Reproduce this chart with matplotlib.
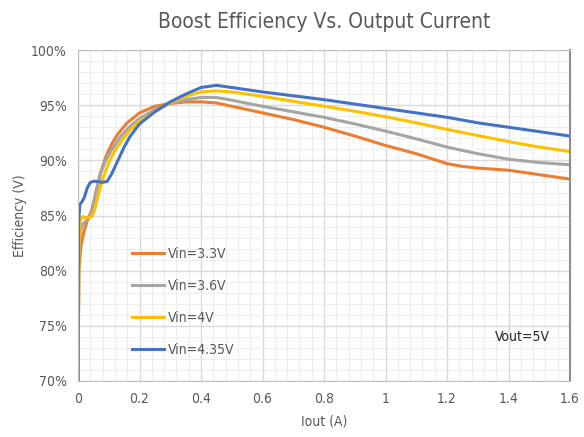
import matplotlib
matplotlib.use("Agg")
import matplotlib.pyplot as plt
from matplotlib.ticker import MultipleLocator, FuncFormatter

# Efficiency (%) vs output current (A)
x_33 = [0, 0.003, 0.01, 0.02, 0.03, 0.045, 0.06, 0.075, 0.09, 0.11, 0.13, 0.16, 0.2, 0.25, 0.3,
        0.35, 0.4, 0.45, 0.5, 0.6, 0.7, 0.8, 0.9, 1.0, 1.1, 1.2, 1.25, 1.3, 1.4, 1.5, 1.6]
y_33 = [70, 80.0, 82.3, 83.6, 84.5, 85.5, 87.3, 89.0, 90.3, 91.5, 92.4, 93.4, 94.3, 94.9, 95.15,
        95.3, 95.3, 95.2, 94.9, 94.3, 93.7, 93.0, 92.2, 91.35, 90.6, 89.7, 89.45, 89.3, 89.1, 88.7, 88.3]

x_36 = [0, 0.003, 0.008, 0.015, 0.025, 0.035, 0.045, 0.055, 0.07, 0.09, 0.11, 0.14, 0.17, 0.2, 0.25,
        0.3, 0.35, 0.4, 0.45, 0.5, 0.6, 0.7, 0.8, 0.9, 1.0, 1.1, 1.2, 1.3, 1.4, 1.5, 1.6]
y_36 = [70, 81.5, 83.6, 84.2, 84.5, 84.8, 85.3, 86.6, 88.6, 90.0, 91.0, 92.2, 93.1, 93.8, 94.6,
        95.15, 95.5, 95.7, 95.7, 95.45, 94.9, 94.4, 93.9, 93.3, 92.65, 91.95, 91.2, 90.6, 90.1, 89.8, 89.6]

x_40 = [0, 0.003, 0.008, 0.015, 0.025, 0.035, 0.045, 0.055, 0.065, 0.08, 0.1, 0.12, 0.14, 0.17, 0.2,
        0.25, 0.3, 0.35, 0.4, 0.45, 0.5, 0.6, 0.7, 0.8, 0.9, 1.0, 1.1, 1.2, 1.3, 1.4, 1.5, 1.6]
y_40 = [70, 82.5, 84.6, 84.9, 84.8, 84.8, 84.9, 85.6, 86.8, 88.3, 89.8, 90.9, 91.7, 92.8, 93.5,
        94.4, 95.2, 95.8, 96.2, 96.3, 96.2, 95.8, 95.35, 94.9, 94.45, 93.95, 93.4, 92.8, 92.25, 91.7, 91.2, 90.8]

x_435 = [0, 0.002, 0.006, 0.012, 0.02, 0.03, 0.04, 0.05, 0.06, 0.08, 0.095, 0.11, 0.13, 0.15, 0.17,
         0.2, 0.25, 0.3, 0.35, 0.4, 0.45, 0.5, 0.6, 0.7, 0.8, 0.9, 1.0, 1.1, 1.2, 1.3, 1.4, 1.5, 1.6]
y_435 = [70, 84.5, 86.0, 86.2, 86.6, 87.5, 88.0, 88.1, 88.1, 88.0, 88.1, 88.8, 90.0, 91.2, 92.2,
         93.3, 94.4, 95.3, 96.0, 96.6, 96.8, 96.6, 96.2, 95.85, 95.5, 95.1, 94.7, 94.3, 93.9, 93.4, 93.0, 92.6, 92.2]

series = [
    ("Vin=3.3V", x_33, y_33, "#ED7D31"),
    ("Vin=3.6V", x_36, y_36, "#A5A5A5"),
    ("Vin=4V", x_40, y_40, "#FFC000"),
    ("Vin=4.35V", x_435, y_435, "#4472C4"),
]

TXT = "#595959"
plt.rcParams["font.family"] = "DejaVu Sans"
plt.rcParams["font.stretch"] = "condensed"

fig = plt.figure(figsize=(5.84, 4.37), dpi=100)
ax = fig.add_axes([78 / 584, 1 - 381 / 437, 492 / 584, 331 / 437])

for label, xs, ys, c in series:
    ax.plot(xs, ys, color=c, lw=2.2, label=label, solid_joinstyle="round")

ax.set_xlim(0, 1.6)
ax.set_ylim(70, 100)
ax.xaxis.set_major_locator(MultipleLocator(0.2))
ax.xaxis.set_minor_locator(MultipleLocator(0.04))
ax.yaxis.set_major_locator(MultipleLocator(5))
ax.yaxis.set_minor_locator(MultipleLocator(1))
ax.xaxis.set_major_formatter(FuncFormatter(lambda v, p: f"{v:g}"))
ax.yaxis.set_major_formatter(FuncFormatter(lambda v, p: f"{v:.0f}%"))
ax.grid(which="major", color="#d9d9d9", lw=1.0)
ax.grid(which="minor", color="#eeeeee", lw=0.8)
ax.set_axisbelow(True)
ax.tick_params(which="both", length=0, labelsize=10, colors=TXT, pad=8)
for side in ["top", "left", "bottom"]:
    ax.spines[side].set_color("#bfbfbf")
ax.spines["right"].set_color("#8c8c8c")
ax.spines["right"].set_linewidth(1.5)

ax.set_title("Boost Efficiency Vs. Output Current", fontsize=15, color=TXT, pad=16)
ax.set_xlabel("Iout (A)", fontsize=10, color=TXT, labelpad=6)
ax.set_ylabel("Efficiency (V)", fontsize=10, color=TXT)
ax.yaxis.set_label_coords(-0.103, 0.5)

leg = ax.legend(loc="lower left", bbox_to_anchor=(0.085, 0.035), frameon=False,
                fontsize=10, labelspacing=1.3, handlelength=2.3, handletextpad=0.25)
for t in leg.get_texts():
    t.set_color(TXT)

ax.text(0.904, 0.133, "Vout=5V", transform=ax.transAxes, ha="center", va="center",
        fontsize=10, color="#262626")

fig.savefig("out.png", dpi=100)
